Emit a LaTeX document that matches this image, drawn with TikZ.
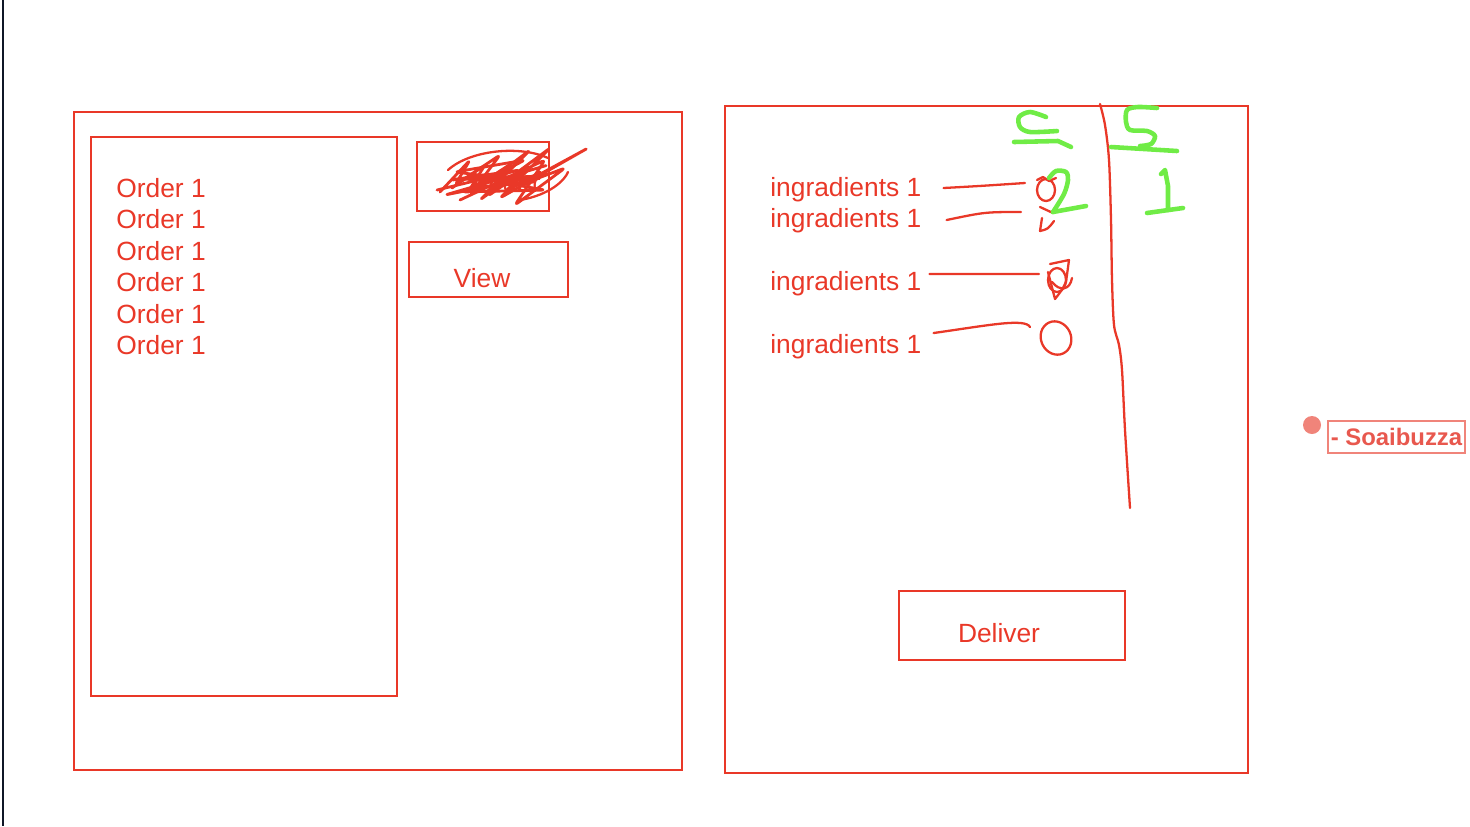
\documentclass[tikz,border=0pt]{standalone}
\usepackage{fontspec}
\setmainfont{Liberation Sans}
\definecolor{sketchred}{RGB}{233,56,40}
\definecolor{sketchgreen}{RGB}{112,236,70}
\definecolor{salmon}{RGB}{240,132,122}
\definecolor{namered}{RGB}{232,88,78}
\tikzset{
  panel/.style  = {draw=sketchred, line width=1.3pt},
  button/.style = {shape=rectangle, draw=sketchred, line width=1.3pt,
                   inner sep=0pt},
  label/.style  = {text=sketchred, font=\fontsize{15}{18}\selectfont,
                   inner sep=0pt, anchor=west},
  pen/.style    = {draw=sketchred, line width=1.3pt, line cap=round,
                   line join=round},
  marker/.style = {draw=sketchgreen, line width=2.6pt, line cap=round,
                   line join=round},
  author/.style = {draw=salmon, line width=1pt, text=namered,
                   font=\bfseries\fontsize{13.6}{16}\selectfont,
                   minimum width=2.74cm, minimum height=0.64cm, inner sep=0pt}
}
\begin{document}
\begin{tikzpicture}[x=0.02cm, y=-0.02cm]
  \useasboundingbox (0,0) rectangle (1470,826);
  % page edge
  \draw [draw={rgb,255:red,15;green,22;blue,38}, line width=1.2pt] (3,0) -- (3,826);

  % orders screen
  \draw [panel] (74,112) rectangle (682,770);
  \draw [panel] (91,137) rectangle (397,696);
  \foreach \i/\y in {1/188,2/219,3/251,4/282,5/314,6/345}
    \node [label] (order\i) at (116,\y) {Order 1};

  \node [button, minimum width=2.64cm, minimum height=1.38cm] (hidden) at (483,176.5) {};
  \node [label, anchor=east] (hiddentext) at (541,183) {Order};
  % scribble over the button
  \draw [pen, line width=1.6pt, rounded corners=2pt]
    (440,192) -- (470,160) -- (455,185) -- (500,155) -- (470,195) -- (530,150)
    -- (480,200) -- (550,148) -- (500,198) -- (588,148) -- (520,185)
    -- (565,168) -- (515,205) -- (545,160) -- (460,200);
  \draw [pen, line width=1.6pt, rounded corners=2pt]
    (437,190) -- (520,170) -- (450,180) -- (540,176) -- (445,195)
    -- (548,165) -- (470,188) -- (535,182) -- (455,172) -- (525,160)
    -- (462,192) -- (545,190) -- (475,178);
  \draw [pen, line width=1.6pt, rounded corners=2pt]
    (452,188) -- (485,165) -- (468,192) -- (512,163) -- (488,196)
    -- (528,168) -- (505,192) -- (540,172);
  \draw [pen] (448,170) .. controls (470,150) and (520,145) .. (548,158);
  \draw [pen] (520,200) .. controls (550,195) and (565,180) .. (568,172);

  \node [button, minimum width=3.18cm, minimum height=1.1cm] (view) at (488.5,269.5) {};
  \node [label, anchor=center] (viewtext) at (482,278) {View};

  % order detail screen
  \draw [panel] (725,106) rectangle (1248,773);
  \foreach \i/\y in {1/190,2/221,3/284,4/347}
    \node [label] (ing\i) at (770,\y) {ingradients 1};

  \coordinate (m1) at (1025,183);
  \coordinate (m2) at (1021,212);
  \coordinate (m3) at (1039,274);
  \coordinate (m4) at (1030,327);
  \draw [pen] ([xshift=0.44cm,yshift=0.04cm]ing1.east) .. controls (980,186) .. (m1);
  \draw [pen] ([xshift=0.5cm,yshift=0.02cm]ing2.east) .. controls (985,212) .. (m2);
  \draw [pen] ([xshift=0.16cm,yshift=0.2cm]ing3.east) -- (m3);
  \draw [pen] ([xshift=0.24cm,yshift=0.28cm]ing4.east) .. controls (990,325) and (1025,318) .. (m4);

  % tick marks
  \draw [pen] (1046,190) ellipse [x radius=9, y radius=11];
  \draw [pen] (1037,180) -- (1043,177) -- (1049,181) -- (1056,178);
  \draw [pen] (1040,207) -- (1053,213);
  \draw [pen] (1042,218) -- (1040,231) .. controls (1048,229) .. (1054,221);
  \draw [pen] (1057,280) ellipse [x radius=9, y radius=12];
  \draw [pen] (1050,264) -- (1069,260) -- (1066,282) .. controls (1062,290) .. (1055,299) -- (1048,272);
  \draw [pen] (1052,282) .. controls (1060,292) and (1070,290) .. (1072,278);
  \draw [pen] (1056,338) ellipse [x radius=15, y radius=17, rotate=25];

  % divider
  \draw [pen] plot [smooth] coordinates {(1100,104) (1105,125) (1109,160)
    (1111,220) (1112,280) (1114,325) (1119,345) (1122,370) (1125,430) (1130,508)};

  % green notes
  \draw [marker] plot [smooth] coordinates {(1046,117) (1030,112) (1019,117)
    (1020,127) (1030,132) (1057,131)};
  \draw [marker] (1014,142) -- (1058,141) -- (1071,147);
  \draw [marker] plot [smooth] coordinates {(1157,108) (1138,107) (1127,110)
    (1126,122) (1130,130) (1147,131) (1155,136) (1151,144) (1140,146)};
  \draw [marker] (1111,147) -- (1177,151);
  \draw [marker] plot [smooth] coordinates {(1049,178) (1056,171) (1066,172)
    (1068,180) (1064,194) (1053,212)};
  \draw [marker] (1053,212) -- (1086,206);
  \draw [marker] (1161,174) -- (1165,170) -- (1168,186) -- (1168,210);
  \draw [marker] (1147,213) -- (1183,208);

  \node [button, minimum width=4.52cm, minimum height=1.38cm] (deliver) at (1012,625.5) {};
  \node [label, anchor=center] (delivertext) at (999,633) {Deliver};

  % author tag
  \fill [salmon] (1312,425) circle [radius=9];
  \node [author] (name) at (1396.5,437) {- Soaibuzza};
\end{tikzpicture}
\end{document}
